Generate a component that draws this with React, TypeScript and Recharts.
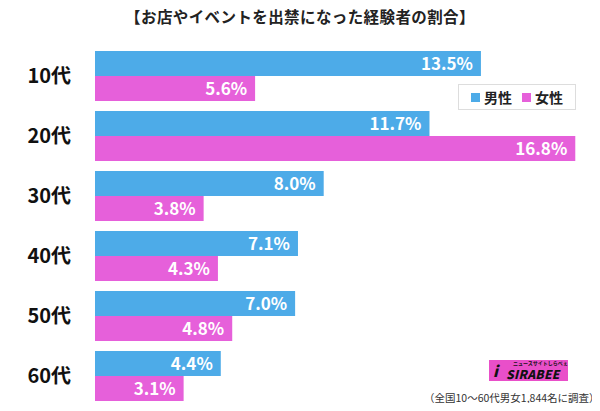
import { Bar, BarChart, LabelList, XAxis, YAxis } from "recharts";

const ages = ["10代", "20代", "30代", "40代", "50代", "60代"];
const male = [13.5, 11.7, 8.0, 7.1, 7.0, 4.4];
const female = [5.6, 16.8, 3.8, 4.3, 4.8, 3.1];

const BLUE = "#4DABE8";
const PINK = "#E660DA";
const FONT = "'Noto Sans CJK JP', 'Noto Sans', sans-serif";

const data = ages.map((age, i) => ({ age, male: male[i], female: female[i] }));

const fmt = (v: any) => `${Number(v).toFixed(1)}%`;

export default function App() {
    return (
        <div style={{ position: "relative", width: 600, height: 411, margin: -8, fontFamily: FONT, background: "#fff" }}>
            <div style={{ position: "absolute", top: 5, left: 0, width: 600, textAlign: "center", fontSize: 15.5, fontWeight: 700, color: "#222", letterSpacing: 0.4 }}>
                【お店やイベントを出禁になった経験者の割合】
            </div>
            <BarChart
                width={600}
                height={411}
                data={data}
                layout="vertical"
                margin={{ top: 46, right: 19, bottom: 5, left: 0 }}
                barSize={25}
                barGap={0}
            >
                <XAxis type="number" domain={[0, 17]} hide />
                <YAxis
                    type="category"
                    dataKey="age"
                    width={95}
                    axisLine={false}
                    tickLine={false}
                    tickMargin={18}
                    tick={{ fill: "#111", fontSize: 20, fontWeight: 700, fontFamily: FONT }}
                />
                <Bar dataKey="male" fill={BLUE} isAnimationActive={false}>
                    <LabelList dataKey="male" position="insideRight" offset={8} formatter={fmt} fill="#fff" fontSize={17} fontWeight={700} fontFamily={FONT} />
                </Bar>
                <Bar dataKey="female" fill={PINK} isAnimationActive={false}>
                    <LabelList dataKey="female" position="insideRight" offset={8} formatter={fmt} fill="#fff" fontSize={17} fontWeight={700} fontFamily={FONT} />
                </Bar>
            </BarChart>
            <div style={{ position: "absolute", left: 458, top: 84, width: 118, height: 26, border: "1px solid #ddd", boxSizing: "border-box", display: "flex", alignItems: "center", justifyContent: "center", gap: 10, fontSize: 14, fontWeight: 700, color: "#222" }}>
                <span style={{ display: "flex", alignItems: "center", gap: 4 }}>
                    <span style={{ width: 9, height: 9, background: BLUE, display: "inline-block" }} />男性
                </span>
                <span style={{ display: "flex", alignItems: "center", gap: 4 }}>
                    <span style={{ width: 9, height: 9, background: PINK, display: "inline-block" }} />女性
                </span>
            </div>
            <div style={{ position: "absolute", left: 489, top: 360, width: 79, height: 21, background: "#E94FC9", color: "#111" }}>
                <div style={{ position: "absolute", left: 24, top: 0, fontSize: 5, lineHeight: "6px", fontWeight: 700, whiteSpace: "nowrap" }}>ニュースサイトしらべぇ</div>
                <div style={{ position: "absolute", left: 4, top: 2, fontSize: 15, fontWeight: 900, fontStyle: "italic", lineHeight: "17px" }}>i</div>
                <div style={{ position: "absolute", left: 17, top: 7, fontSize: 12, fontWeight: 900, fontStyle: "italic", lineHeight: "13px", letterSpacing: 0.3, whiteSpace: "nowrap" }}>SIRABEE</div>
            </div>
            <div style={{ position: "absolute", left: 424, top: 390, fontSize: 10.5, color: "#333", whiteSpace: "nowrap" }}>
                （全国10〜60代男女1,844名に調査）
            </div>
        </div>
    );
}
